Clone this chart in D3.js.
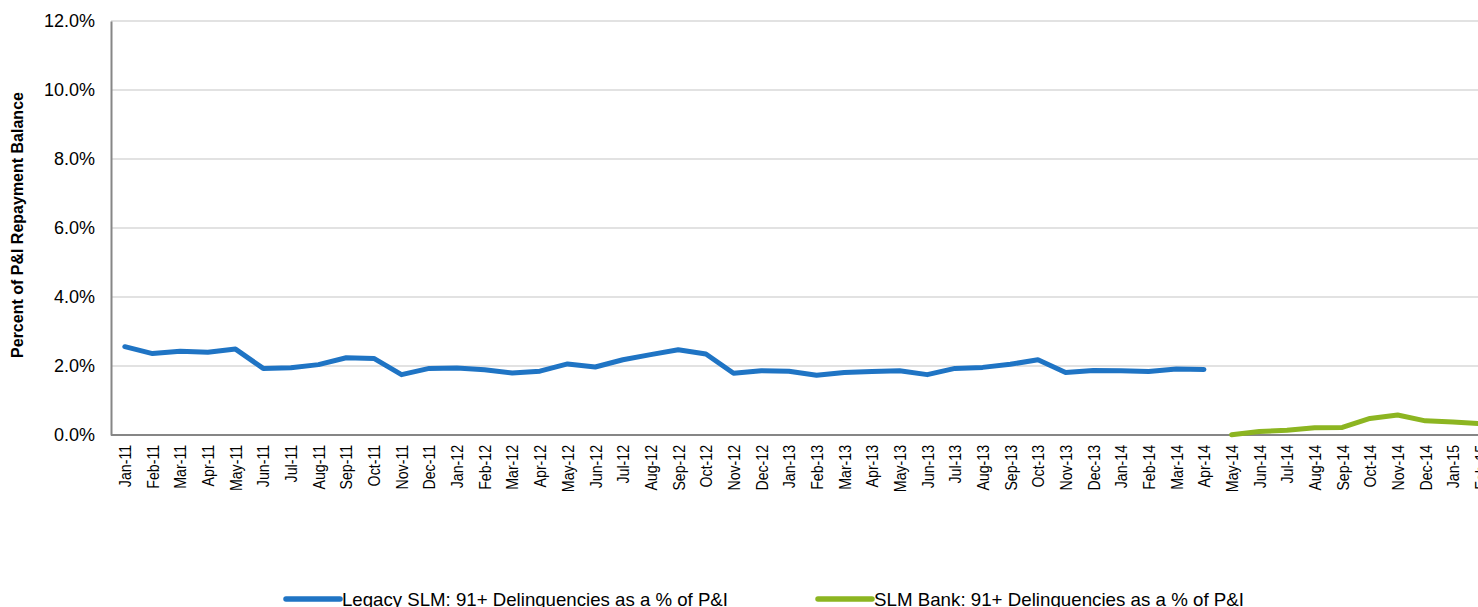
<!DOCTYPE html>
<html><head><meta charset="utf-8">
<script src="https://cdn.jsdelivr.net/npm/d3@7"></script>
<style>html,body{margin:0;padding:0;background:#fff;overflow:hidden}</style>
</head><body>
<svg id="chart" width="1478" height="607"></svg>
<script>
const months = ["Jan-11","Feb-11","Mar-11","Apr-11","May-11","Jun-11","Jul-11","Aug-11","Sep-11","Oct-11","Nov-11","Dec-11",
"Jan-12","Feb-12","Mar-12","Apr-12","May-12","Jun-12","Jul-12","Aug-12","Sep-12","Oct-12","Nov-12","Dec-12",
"Jan-13","Feb-13","Mar-13","Apr-13","May-13","Jun-13","Jul-13","Aug-13","Sep-13","Oct-13","Nov-13","Dec-13",
"Jan-14","Feb-14","Mar-14","Apr-14","May-14","Jun-14","Jul-14","Aug-14","Sep-14","Oct-14","Nov-14","Dec-14",
"Jan-15","Feb-15"];
const legacyMonths = months.slice(0, 40);
const legacyValues = [2.56,2.36,2.43,2.40,2.49,1.93,1.95,2.04,2.24,2.22,1.75,1.93,
1.94,1.89,1.80,1.85,2.06,1.97,2.18,2.33,2.47,2.35,1.79,1.86,
1.85,1.73,1.81,1.84,1.86,1.75,1.93,1.96,2.05,2.18,1.81,1.87,
1.86,1.84,1.91,1.90];
const bankMonths = months.slice(40);
const bankValues = [0.01,0.10,0.14,0.21,0.22,0.48,0.58,0.41,0.38,0.33];
const yTicks = [0,2,4,6,8,10,12];
const seriesNames = ["Legacy SLM: 91+ Delinquencies as a % of P&I","SLM Bank: 91+ Delinquencies as a % of P&I"];
const colors = ["#1f74c4","#8cb521"];
const yTitle = "Percent of P&I Repayment  Balance";

(function(){
const svg = d3.select("#chart");
const mLeft = 111, mTop = 21, mBottom = 435;
const step = 27.67;
const x = d3.scalePoint().domain(months).range([mLeft + step/2, mLeft + step/2 + step*(months.length-1)]);
const y = d3.scaleLinear().domain([0,12]).range([mBottom, mTop]);

svg.append("g").selectAll("line").data(yTicks.filter(d=>d>0)).join("line")
  .attr("x1", mLeft).attr("x2", 1478).attr("y1", d=>y(d)).attr("y2", d=>y(d))
  .attr("stroke", "#d9d9d9").attr("stroke-width", 1.5);

const yAxis = svg.append("g").attr("transform", `translate(${mLeft},0)`)
  .call(d3.axisLeft(y).tickValues(yTicks).tickFormat(d=>d.toFixed(1)+"%").tickSize(0).tickPadding(16));
yAxis.select(".domain").attr("stroke", "#868686").attr("stroke-width", 2);
yAxis.selectAll("text").attr("font-family","Liberation Sans, Arial, sans-serif").attr("font-size", 18).attr("fill","#000");

const xAxis = svg.append("g").attr("transform", `translate(0,${mBottom})`)
  .call(d3.axisBottom(x).tickSize(0).tickPadding(0));
xAxis.select(".domain").remove();
svg.append("line").attr("x1", mLeft).attr("x2", 1478).attr("y1", mBottom).attr("y2", mBottom)
  .attr("stroke", "#868686").attr("stroke-width", 2);
xAxis.selectAll("text")
  .attr("font-family","Liberation Sans, Arial, sans-serif").attr("font-size", 16.5).attr("fill","#000")
  .attr("transform", "rotate(-90) scale(0.86,1)")
  .attr("text-anchor", "end").attr("x", -11.5).attr("y", 0).attr("dy", "0.35em");

svg.append("text").attr("transform", `translate(23,${(88+362)/2}) rotate(-90)`)
  .attr("text-anchor","middle").attr("font-family","Liberation Sans, Arial, sans-serif")
  .attr("font-weight","bold").attr("font-size", 16).text(yTitle);

const line = d3.line().x(d=>x(d[0])).y(d=>y(d[1]));
svg.append("path").datum(d3.zip(legacyMonths, legacyValues)).attr("d", line)
  .attr("fill","none").attr("stroke", colors[0]).attr("stroke-width", 5).attr("stroke-linejoin","round").attr("stroke-linecap","round");
svg.append("path").datum(d3.zip(bankMonths, bankValues)).attr("d", line)
  .attr("fill","none").attr("stroke", colors[1]).attr("stroke-width", 5).attr("stroke-linejoin","round").attr("stroke-linecap","round");

const legendX = [286, 818];
const lg = svg.append("g").selectAll("g").data(seriesNames).join("g")
  .attr("transform", (d,i)=>`translate(${legendX[i]},599)`);
lg.append("line").attr("x1",0).attr("x2",54).attr("y1",0).attr("y2",0)
  .attr("stroke",(d,i)=>colors[i]).attr("stroke-width",5.5).attr("stroke-linecap","round");
lg.append("text").attr("x",56).attr("y",7).attr("font-family","Liberation Sans, Arial, sans-serif")
  .attr("font-size",19).attr("textLength",(d,i)=>[386,370][i]).attr("lengthAdjust","spacingAndGlyphs")
  .attr("fill","#000").text(d=>d);
})();
</script>
</body></html>
